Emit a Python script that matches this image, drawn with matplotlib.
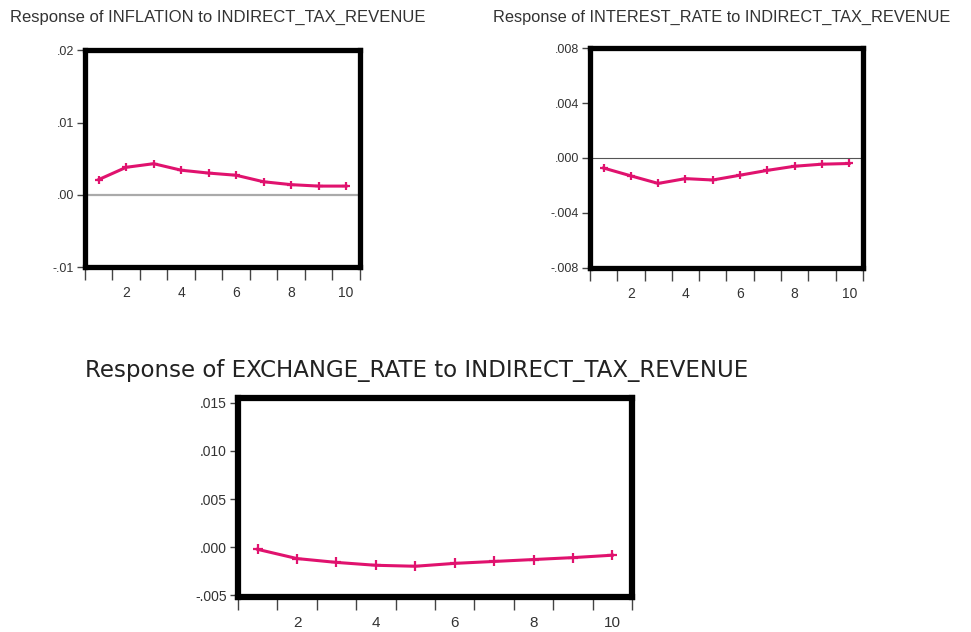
import matplotlib
matplotlib.use("Agg")
import matplotlib.pyplot as plt

periods = [1, 2, 3, 4, 5, 6, 7, 8, 9, 10]
inflation = [0.0021, 0.0038, 0.0043, 0.0034, 0.0030, 0.0027, 0.0018, 0.0014, 0.0012, 0.0012]
interest = [-0.00073, -0.0013, -0.00185, -0.0015, -0.0016, -0.00125, -0.0009, -0.0006, -0.00045, -0.0004]
exchange = [-0.00024, -0.0012, -0.0016, -0.0019, -0.0020, -0.0017, -0.0015, -0.0013, -0.0011, -0.00085]

titles = ["Response of INFLATION to INDIRECT_TAX_REVENUE",
          "Response of INTEREST_RATE to INDIRECT_TAX_REVENUE",
          "Response of EXCHANGE_RATE to INDIRECT_TAX_REVENUE"]
x_labels = ["2", "4", "6", "8", "10"]
x_label_pos = [2, 4, 6, 8, 10]
y_ticks_1 = [-0.01, 0.0, 0.01, 0.02]
y_labels_1 = ["-.01", ".00", ".01", ".02"]
y_ticks_2 = [-0.008, -0.004, 0.0, 0.004, 0.008]
y_labels_2 = ["-.008", "-.004", ".000", ".004", ".008"]
y_ticks_3 = [-0.005, 0.0, 0.005, 0.010, 0.015]
y_labels_3 = ["-.005", ".000", ".005", ".010", ".015"]

LINE = "#e0126e"
TXT = "#333333"
FAM = "Liberation Sans"

fig = plt.figure(figsize=(9.71, 6.32), dpi=100)

def style(ax, yt, yl, ylim, fs, frame_lw):
    ax.set_xlim(0.5, 10.5)
    ax.set_ylim(*ylim)
    for s in ax.spines.values():
        s.set_linewidth(frame_lw)
        s.set_color("black")
    ax.set_yticks(yt)
    ax.set_yticklabels(yl, family=FAM, fontsize=fs, color=TXT)
    ax.set_xticks(x_label_pos)
    ax.set_xticklabels(x_labels, family=FAM, fontsize=fs + 1, color=TXT)
    ax.set_xticks([i + 0.5 for i in range(0, 11)], minor=True)
    ax.tick_params(axis="x", which="major", length=0, pad=14)
    ax.tick_params(axis="x", which="minor", length=9, width=1.0, direction="out", color="#444444")
    ax.tick_params(axis="y", which="major", length=6, width=1.0, direction="out", color="#444444", pad=2)

ax1 = fig.add_axes([0.0875, 0.5775, 0.283, 0.343])
ax1.axhline(0, color="#aaaaaa", lw=1.6, zorder=1)
ax1.plot(periods, inflation, color=LINE, lw=2.2, marker="+", ms=6, mew=1.6, zorder=3)
style(ax1, y_ticks_1, y_labels_1, (-0.01, 0.02), 9, 3.8)

ax2 = fig.add_axes([0.6076, 0.576, 0.281, 0.348])
ax2.axhline(0, color="#555555", lw=0.8, zorder=1)
ax2.plot(periods, interest, color=LINE, lw=2.2, marker="+", ms=6, mew=1.6, zorder=3)
style(ax2, y_ticks_2, y_labels_2, (-0.008, 0.008), 9, 3.8)

ax3 = fig.add_axes([0.245, 0.0554, 0.406, 0.3146])
ax3.plot(periods, exchange, color=LINE, lw=2.2, marker="+", ms=7, mew=1.6, zorder=3)
style(ax3, y_ticks_3, y_labels_3, (-0.0052, 0.0155), 10, 4.5)

fig.text(10 / 971, 1 - 17 / 632, titles[0], family=FAM, fontsize=12, color=TXT, va="center", ha="left")
fig.text(493 / 971, 1 - 17 / 632, titles[1], family=FAM, fontsize=11.8, color=TXT, va="center", ha="left")
fig.text(85 / 971, 1 - 370 / 632, titles[2], family="DejaVu Sans", fontsize=16.5, color="#222222", va="center", ha="left")

fig.savefig("out.png", dpi=100)
